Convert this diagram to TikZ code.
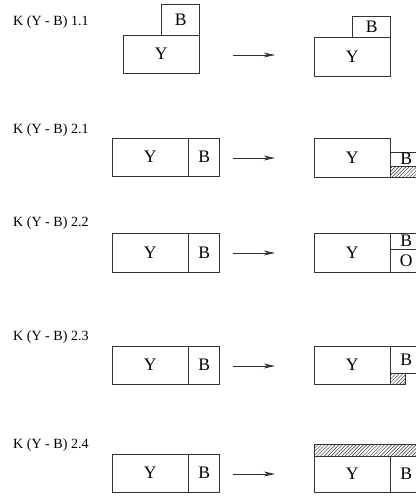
\documentclass[tikz,border=0pt]{standalone}
\usepackage{fontspec}
\setmainfont{Liberation Serif}
\usepackage{tikz}
\usetikzlibrary{positioning, arrows.meta, patterns}
\tikzstyle{cell} = [rectangle, draw=black!80, line width=0.6pt, inner sep=0pt, outer sep=0pt, font=\fontsize{15}{15}\selectfont]
\tikzstyle{ybox} = [cell, minimum width=2.3cm, minimum height=1.14cm]
\tikzstyle{bbox} = [cell, minimum width=0.93cm, minimum height=1.14cm]
\tikzstyle{hatch} = [cell, pattern=north east lines, pattern color=black!80]
\tikzstyle{tag} = [anchor=west, inner sep=0pt, font=\fontsize{12}{12}\selectfont]
\tikzstyle{arrow} = [draw=black!80, line width=0.6pt, -{Stealth[length=3.4mm,width=1.5mm]}]

\begin{document}
\begin{tikzpicture}[x=0.03cm, y=-0.03cm]
\useasboundingbox (0,0) rectangle (416,499);

% 1.1
\node (l11) [tag] at (13,22) {K (Y - B) 1.1};
\node (y11) [ybox, anchor=north west, minimum height=1.14cm] at (123,35) {Y};
\node (b11) [cell, minimum width=1.14cm, minimum height=0.93cm, above=0pt of y11.north east, anchor=south east] {B};
\coordinate (s11) at (233,55);
\coordinate (e11) at (275,55);
\node (yr11) [ybox, anchor=north west, minimum height=1.17cm] at (314,37) {Y};
\node (br11) [cell, minimum width=1.14cm, minimum height=0.63cm, above=0pt of yr11.north east, anchor=south east] {B};
\draw[arrow] (s11) -- (e11);

% 2.1
\node (l21) [tag] at (13,130) {K (Y - B) 2.1};
\node (y21) [ybox, anchor=north west] at (112,138) {Y};
\node (b21) [bbox, right=0pt of y21] {B};
\coordinate (s21) at (233,158);
\coordinate (e21) at (275,158);
\node (yr21) [ybox, anchor=north west, minimum height=1.17cm] at (314,138) {Y};
\node (hr21) [hatch, minimum width=0.93cm, minimum height=0.33cm, anchor=south west] at (yr21.south east) {};
\node (br21) [cell, minimum width=0.93cm, minimum height=0.42cm, above=0pt of hr21] {B};
\draw[arrow] (s21) -- (e21);

% 2.2
\node (l22) [tag] at (13,223) {K (Y - B) 2.2};
\node (y22) [ybox, anchor=north west, minimum height=1.17cm] at (112,233) {Y};
\node (b22) [bbox, minimum height=1.17cm, right=0pt of y22] {B};
\coordinate (s22) at (233,253);
\coordinate (e22) at (275,253);
\node (yr22) [ybox, anchor=north west, minimum height=1.17cm] at (314,233) {Y};
\node (br22) [cell, minimum width=0.93cm, minimum height=0.48cm, anchor=north west] at (yr22.north east) {B};
\node (or22) [cell, minimum width=0.93cm, minimum height=0.69cm, below=0pt of br22] {O};
\draw[arrow] (s22) -- (e22);

% 2.3
\node (l23) [tag] at (13,337) {K (Y - B) 2.3};
\node (y23) [ybox, anchor=north west] at (112,346) {Y};
\node (b23) [bbox, right=0pt of y23] {B};
\coordinate (s23) at (233,366);
\coordinate (e23) at (275,366);
\node (yr23) [ybox, anchor=north west] at (314,346) {Y};
\node (br23) [cell, minimum width=0.93cm, minimum height=0.81cm, anchor=north west] at (yr23.north east) {B};
\node (hr23) [hatch, minimum width=0.45cm, minimum height=0.33cm, anchor=north west] at (br23.south west) {};
\draw[arrow] (s23) -- (e23);

% 2.4
\node (l24) [tag] at (13,445) {K (Y - B) 2.4};
\node (y24) [ybox, anchor=north west] at (112,454) {Y};
\node (b24) [bbox, right=0pt of y24] {B};
\coordinate (s24) at (233,474);
\coordinate (e24) at (275,474);
\node (yr24) [ybox, anchor=north west, minimum height=1.08cm] at (314,456) {Y};
\node (br24) [bbox, minimum height=1.08cm, right=0pt of yr24] {B};
\node (hr24) [hatch, minimum width=3.24cm, minimum height=0.36cm, anchor=south west] at (yr24.north west) {};
\draw[arrow] (s24) -- (e24);

\end{tikzpicture}
\end{document}
